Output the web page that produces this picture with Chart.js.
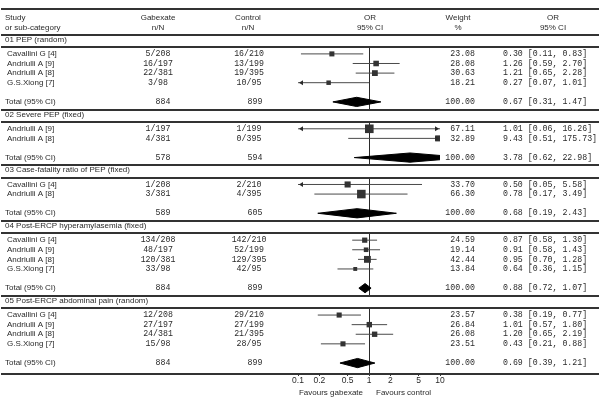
<!DOCTYPE html>
<html>
<head>
<meta charset="utf-8">
<script src="https://cdn.jsdelivr.net/npm/chart.js@4/dist/chart.umd.min.js"></script>
<style>
  html, body { margin: 0; padding: 0; background: #fff; }
</style>
</head>
<body>
<canvas id="forest" width="600" height="403"></canvas>
<script>
// ---- data ----
const groupNames = [
  '01 PEP (random)',
  '02 Severe PEP (fixed)',
  '03 Case-fatality ratio of PEP (fixed)',
  '04 Post-ERCP hyperamylasemia (fixed)',
  '05 Post-ERCP abdominal pain (random)'
];
const studyGroup = [0, 0, 0, 0, 1, 1, 2, 2, 3, 3, 3, 3, 4, 4, 4, 4];
const studyNames = [
  'Cavallini G [4]', 'Andriulli A [9]', 'Andriulli A [8]', 'G.S.Xiong [7]',
  'Andriulli A [9]', 'Andriulli A [8]',
  'Cavallini G [4]', 'Andriulli A [8]',
  'Cavallini G [4]', 'Andriulli A [9]', 'Andriulli A [8]', 'G.S.Xiong [7]',
  'Cavallini G [4]', 'Andriulli A [9]', 'Andriulli A [8]', 'G.S.Xiong [7]'
];
const gabexateN = ['5/208', '16/197', '22/381', '3/98', '1/197', '4/381', '1/208', '3/381',
  '134/208', '48/197', '120/381', '33/98', '12/208', '27/197', '24/381', '15/98'];
const controlN = ['16/210', '13/199', '19/395', '10/95', '1/199', '0/395', '2/210', '4/395',
  '142/210', '52/199', '129/395', '42/95', '29/210', '27/199', '21/395', '28/95'];
const weights = [23.08, 28.08, 30.63, 18.21, 67.11, 32.89, 33.70, 66.30,
  24.59, 19.14, 42.44, 13.84, 23.57, 26.84, 26.08, 23.51];
const oddsRatio = [0.30, 1.26, 1.21, 0.27, 1.01, 9.43, 0.50, 0.78,
  0.87, 0.91, 0.95, 0.64, 0.38, 1.01, 1.20, 0.43];
const ciLow = [0.11, 0.59, 0.65, 0.07, 0.06, 0.51, 0.05, 0.17,
  0.58, 0.58, 0.70, 0.36, 0.19, 0.57, 0.65, 0.21];
const ciHigh = [0.83, 2.70, 2.28, 1.01, 16.26, 175.73, 5.58, 3.49,
  1.30, 1.43, 1.28, 1.15, 0.77, 1.80, 2.19, 0.88];

const totalGabexate = [884, 578, 589, 884, 884];
const totalControl = [899, 594, 605, 899, 899];
const totalOR = [0.67, 3.78, 0.68, 0.88, 0.69];
const totalLow = [0.31, 0.62, 0.19, 0.72, 0.39];
const totalHigh = [1.47, 22.98, 2.43, 1.07, 1.21];

const xTicks = [0.1, 0.2, 0.5, 1, 2, 5, 10];
const xTickLabels = ['0.1', '0.2', '0.5', '1', '2', '5', '10'];

// ---- row layout (in row units) ----
const studyY = [];
const headerY = [];
const totalY = [];
let cursor = 0;
groupNames.forEach((g, gi) => {
  headerY.push(cursor);
  let y = cursor + 1.5;
  studyGroup.forEach((sg, si) => {
    if (sg === gi) { studyY[si] = y; y += 1; }
  });
  totalY.push(y + 1);
  cursor = y + 2.3;
});
const yMin = -3.48;
const yMax = totalY[totalY.length - 1] + 1.14;

const SANS = '8px "Liberation Sans", Arial, sans-serif';
const MONO = '8.25px "Liberation Mono", "Courier New", monospace';
const INK = '#2a2a2a';

// ---- datasets ----
const ciSets = studyNames.map((n, i) => ({
  data: [{ x: ciLow[i], y: studyY[i] }, { x: ciHigh[i], y: studyY[i] }],
  showLine: true,
  borderColor: '#4a4a4a',
  borderWidth: 1,
  pointRadius: 0,
  order: 3
}));

const squareSet = {
  data: studyNames.map((n, i) => ({ x: oddsRatio[i], y: studyY[i] })),
  pointStyle: 'rect',
  pointRadius: weights.map(w => Math.sqrt(w) * 1.05 / Math.SQRT2),
  backgroundColor: '#333',
  borderWidth: 0,
  order: 0
};

const diamondSets = groupNames.map((g, gi) => {
  const y = totalY[gi];
  const h = 0.48;
  return {
    data: [
      { x: totalLow[gi], y: y },
      { x: totalOR[gi], y: y - h },
      { x: totalHigh[gi], y: y },
      { x: totalOR[gi], y: y + h },
      { x: totalLow[gi], y: y }
    ],
    showLine: true,
    fill: 'shape',
    borderColor: '#000',
    backgroundColor: '#000',
    borderWidth: 1,
    pointRadius: 0,
    tension: 0,
    order: 1
  };
});

function txt(ctx, s, x, y, align, font) {
  ctx.font = font;
  ctx.textAlign = align;
  ctx.textBaseline = 'middle';
  ctx.fillText(s, x, y);
}

const tablePlugin = {
  id: 'table',
  beforeDatasetsDraw(chart) {
    const ctx = chart.ctx;
    const xs = chart.scales.x, ys = chart.scales.y;
    const x1 = Math.round(xs.getPixelForValue(1)) + 0.5;
    ctx.save();
    // reference line at OR = 1, one piece per group
    ctx.strokeStyle = INK;
    ctx.lineWidth = 1;
    headerY.forEach((hy, gi) => {
      const top = ys.getPixelForValue(hy + 0.8);
      const bottom = gi < headerY.length - 1 ? ys.getPixelForValue(headerY[gi + 1] - 0.5) : chart.chartArea.bottom;
      ctx.beginPath();
      ctx.moveTo(x1, top);
      ctx.lineTo(x1, bottom);
      ctx.stroke();
    });
    // table rules
    ctx.strokeStyle = '#333';
    ctx.lineWidth = 2;
    const rules = [-3.18];
    headerY.forEach(hy => { rules.push(hy - 0.5, hy + 0.8); });
    rules.push(yMax);
    rules.forEach(v => {
      const p = Math.round(ys.getPixelForValue(v));
      ctx.beginPath();
      ctx.moveTo(1, p);
      ctx.lineTo(599, p);
      ctx.stroke();
    });
    ctx.restore();
  },
  afterDatasetsDraw(chart) {
    const ctx = chart.ctx;
    const ys = chart.scales.y;
    const { left, right } = chart.chartArea;
    ctx.save();
    ctx.fillStyle = INK;
    studyNames.forEach((n, i) => {
      const y = ys.getPixelForValue(studyY[i]);
      if (ciLow[i] < xTicks[0]) {
        ctx.beginPath();
        ctx.moveTo(left + 1, y);
        ctx.lineTo(left + 5, y - 2.5);
        ctx.lineTo(left + 5, y + 2.5);
        ctx.closePath();
        ctx.fill();
      }
      if (ciHigh[i] > xTicks[xTicks.length - 1]) {
        ctx.beginPath();
        ctx.moveTo(right - 1, y);
        ctx.lineTo(right - 5, y - 2.5);
        ctx.lineTo(right - 5, y + 2.5);
        ctx.closePath();
        ctx.fill();
      }
    });
    ctx.restore();
  },
  afterDraw(chart) {
    const ctx = chart.ctx;
    const xs = chart.scales.x, ys = chart.scales.y;
    const py = v => ys.getPixelForValue(v);
    ctx.save();
    ctx.fillStyle = INK;
    // column headings
    const h1 = py(-2.25), h2 = py(-1.2);
    txt(ctx, 'Study', 5, h1, 'left', SANS);
    txt(ctx, 'or sub-category', 5, h2, 'left', SANS);
    txt(ctx, 'Gabexate', 158, h1, 'center', SANS);
    txt(ctx, 'n/N', 158, h2, 'center', SANS);
    txt(ctx, 'Control', 248, h1, 'center', SANS);
    txt(ctx, 'n/N', 248, h2, 'center', SANS);
    txt(ctx, 'OR', 370, h1, 'center', SANS);
    txt(ctx, '95% CI', 370, h2, 'center', SANS);
    txt(ctx, 'Weight', 458, h1, 'center', SANS);
    txt(ctx, '%', 458, h2, 'center', SANS);
    txt(ctx, 'OR', 553, h1, 'center', SANS);
    txt(ctx, '95% CI', 553, h2, 'center', SANS);

    const fmtCI = (o, l, h) => o.toFixed(2) + ' [' + l.toFixed(2) + ', ' + h.toFixed(2) + ']';

    groupNames.forEach((g, gi) => {
      txt(ctx, g, 5, py(headerY[gi]), 'left', SANS);
      const ty = py(totalY[gi]);
      txt(ctx, 'Total (95% CI)', 5, ty, 'left', SANS);
      txt(ctx, String(totalGabexate[gi]), 163, ty, 'center', MONO);
      txt(ctx, String(totalControl[gi]), 255, ty, 'center', MONO);
      txt(ctx, '100.00', 475, ty, 'right', MONO);
      txt(ctx, fmtCI(totalOR[gi], totalLow[gi], totalHigh[gi]), 503, ty, 'left', MONO);
    });
    studyNames.forEach((n, i) => {
      const y = py(studyY[i]);
      txt(ctx, n, 7, y, 'left', SANS);
      txt(ctx, gabexateN[i], 158, y, 'center', MONO);
      txt(ctx, controlN[i], 249, y, 'center', MONO);
      txt(ctx, weights[i].toFixed(2), 475, y, 'right', MONO);
      txt(ctx, fmtCI(oddsRatio[i], ciLow[i], ciHigh[i]), 503, y, 'left', MONO);
    });

    // favours labels under the axis
    const x1 = xs.getPixelForValue(1);
    const fy = chart.chartArea.bottom + 19;
    txt(ctx, 'Favours gabexate', x1 - 6, fy, 'right', SANS);
    txt(ctx, 'Favours control', x1 + 7, fy, 'left', SANS);
    ctx.restore();
  }
};

new Chart(document.getElementById('forest'), {
  type: 'scatter',
  data: { datasets: [squareSet, ...diamondSets, ...ciSets] },
  options: {
    responsive: false,
    animation: false,
    devicePixelRatio: 1,
    events: [],
    layout: { padding: { left: 298, right: 160, top: 0, bottom: 0 } },
    plugins: { legend: { display: false }, tooltip: { enabled: false } },
    scales: {
      x: {
        type: 'logarithmic',
        min: 0.1,
        max: 10,
        afterFit: s => { s.height = 29; },
        afterBuildTicks: s => { s.ticks = xTicks.map(v => ({ value: v })); },
        grid: { drawOnChartArea: false, tickLength: 2, color: '#333' },
        border: { display: false },
        ticks: {
          autoSkip: false,
          maxRotation: 0,
          padding: 0,
          color: INK,
          font: { family: '"Liberation Sans", Arial, sans-serif', size: 8.5 },
          callback: v => xTickLabels[xTicks.indexOf(v)]
        }
      },
      y: { type: 'linear', min: yMin, max: yMax, reverse: true, display: false }
    }
  },
  plugins: [tablePlugin]
});
</script>
</body>
</html>
